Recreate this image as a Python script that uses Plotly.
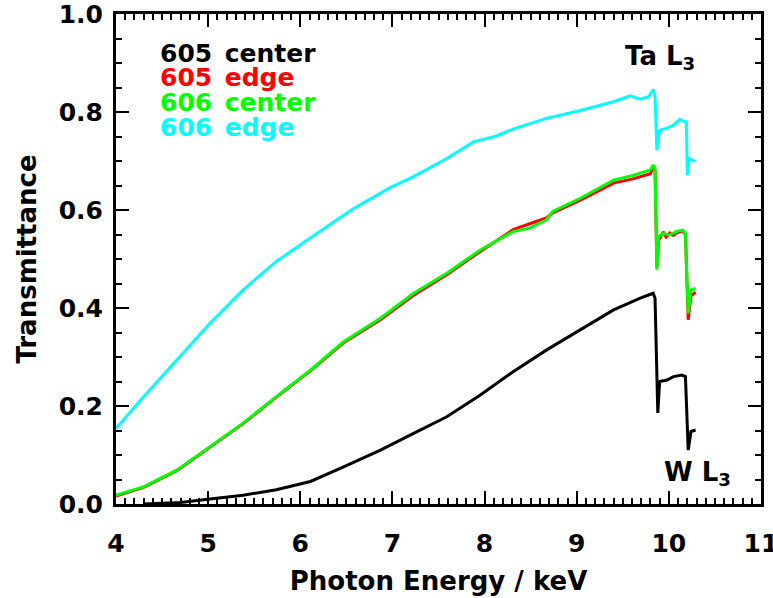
import plotly.graph_objects as go

# ---- data ----
e_605c = [4.30, 4.70, 5.02, 5.38, 5.74, 6.11, 6.47, 6.87, 7.23, 7.59, 7.95, 8.31, 8.67, 9.04, 9.40, 9.69,
          9.83, 9.85, 9.88, 9.90, 9.98, 10.05, 10.14, 10.18, 10.21, 10.24, 10.29]
t_605c = [0.000, 0.003, 0.010, 0.018, 0.029, 0.046, 0.076, 0.110, 0.144, 0.178, 0.222, 0.270, 0.314, 0.355,
          0.396, 0.420, 0.430, 0.420, 0.186, 0.250, 0.253, 0.260, 0.263, 0.260, 0.110, 0.148, 0.151]

e_605e = [4.00, 4.30, 4.66, 5.02, 5.38, 5.74, 6.11, 6.47, 6.87, 7.23, 7.59, 7.95, 8.31, 8.49, 8.67, 8.74,
          9.04, 9.40, 9.62, 9.80, 9.83, 9.85, 9.87, 9.89, 9.94, 9.97, 10.01, 10.05, 10.08, 10.15, 10.18,
          10.21, 10.24, 10.29]
t_605e = [0.016, 0.034, 0.068, 0.116, 0.164, 0.218, 0.272, 0.329, 0.376, 0.426, 0.468, 0.515, 0.560, 0.572,
          0.584, 0.594, 0.620, 0.655, 0.664, 0.674, 0.688, 0.680, 0.482, 0.538, 0.555, 0.545, 0.553, 0.548,
          0.553, 0.557, 0.550, 0.376, 0.425, 0.432]

e_606c = [4.00, 4.30, 4.66, 5.02, 5.38, 5.74, 6.11, 6.47, 6.87, 7.23, 7.59, 7.95, 8.31, 8.49, 8.67, 8.74,
          9.04, 9.40, 9.62, 9.80, 9.83, 9.85, 9.87, 9.89, 9.94, 10.01, 10.08, 10.15, 10.18, 10.21, 10.24, 10.29]
t_606c = [0.018, 0.035, 0.069, 0.117, 0.165, 0.219, 0.273, 0.331, 0.379, 0.430, 0.471, 0.518, 0.556, 0.563,
          0.580, 0.597, 0.624, 0.661, 0.671, 0.682, 0.692, 0.685, 0.478, 0.546, 0.552, 0.549, 0.556, 0.559,
          0.552, 0.389, 0.437, 0.440]

e_606e = [4.00, 4.30, 4.66, 5.02, 5.38, 5.74, 6.18, 6.58, 6.97, 7.23, 7.59, 7.88, 8.13, 8.31, 8.67, 9.04,
          9.40, 9.58, 9.69, 9.78, 9.83, 9.85, 9.87, 9.89, 9.90, 9.98, 10.05, 10.12, 10.17, 10.19, 10.20,
          10.22, 10.29]
t_606e = [0.154, 0.219, 0.294, 0.369, 0.437, 0.495, 0.552, 0.603, 0.645, 0.668, 0.705, 0.739, 0.751, 0.765,
          0.787, 0.803, 0.821, 0.833, 0.826, 0.831, 0.846, 0.831, 0.722, 0.756, 0.763, 0.767, 0.773, 0.785,
          0.780, 0.780, 0.671, 0.705, 0.699]

series_names = ["605 center", "605 edge", "606 center", "606 edge"]
series_colors = ["#000000", "#ff0000", "#00ff00", "#00ffff"]
series_x = [e_605c, e_605e, e_606c, e_606e]
series_y = [t_605c, t_605e, t_606c, t_606e]

x_title = "Photon Energy / keV"
y_title = "Transmittance"
edge_labels = ["Ta L<sub>3</sub>", "W L<sub>3</sub>"]

FONT = "DejaVu Sans"

fig = go.Figure()
for xs, ys, name, col in zip(series_x, series_y, series_names, series_colors):
    fig.add_trace(go.Scatter(x=xs, y=ys, mode="lines", name=name,
                             line=dict(color=col, width=3), showlegend=False))

# legend as coloured text
leg_y = [0.920, 0.870, 0.819, 0.768]
for name, col, yy in zip(series_names, series_colors, leg_y):
    a, b = name.split(" ")
    fig.add_annotation(x=4.46, y=yy, xref="x", yref="y", text=a + "\u2002" + b,
                       showarrow=False, xanchor="left", yanchor="middle",
                       font=dict(family=FONT, size=25, color=col, weight="bold"))

fig.add_annotation(x=9.90, y=0.912, xref="x", yref="y", text=edge_labels[0], showarrow=False,
                   xanchor="center", yanchor="middle",
                   font=dict(family=FONT, size=26, color="black", weight="bold"))
fig.add_annotation(x=10.31, y=0.062, xref="x", yref="y", text=edge_labels[1], showarrow=False,
                   xanchor="center", yanchor="middle",
                   font=dict(family=FONT, size=26, color="black", weight="bold"))

fig.update_xaxes(range=[4, 11], dtick=1, tick0=4, mirror="ticks",
                 showgrid=False, zeroline=False, showline=True, linecolor="black", linewidth=3,
                 ticks="inside", ticklen=13, tickwidth=2, tickcolor="black",
                 minor=dict(dtick=0.1, ticks="inside", ticklen=6, tickwidth=2, tickcolor="black"),
                 automargin=False, ticklabeloverflow="allow", ticklabelstandoff=15,
                 tickfont=dict(family=FONT, size=25, color="black", weight="bold"),
                 title=dict(text=x_title, font=dict(family=FONT, size=26, color="black", weight="bold")))
fig.update_yaxes(range=[0, 1], dtick=0.2, tick0=0, tickformat=".1f", mirror="ticks",
                 showgrid=False, zeroline=False, showline=True, linecolor="black", linewidth=3,
                 ticks="inside", ticklen=13, tickwidth=2, tickcolor="black",
                 minor=dict(dtick=0.05, ticks="inside", ticklen=6, tickwidth=2, tickcolor="black"),
                 automargin=False, ticklabeloverflow="allow", ticklabelstandoff=5,
                 tickfont=dict(family=FONT, size=25, color="black", weight="bold"),
                 title=dict(text=y_title, font=dict(family=FONT, size=26, color="black", weight="bold")))

fig.update_layout(width=773, height=598, paper_bgcolor="white", plot_bgcolor="white",
                  margin=dict(l=116, r=12, t=14, b=94))

fig.write_html("out.html")
